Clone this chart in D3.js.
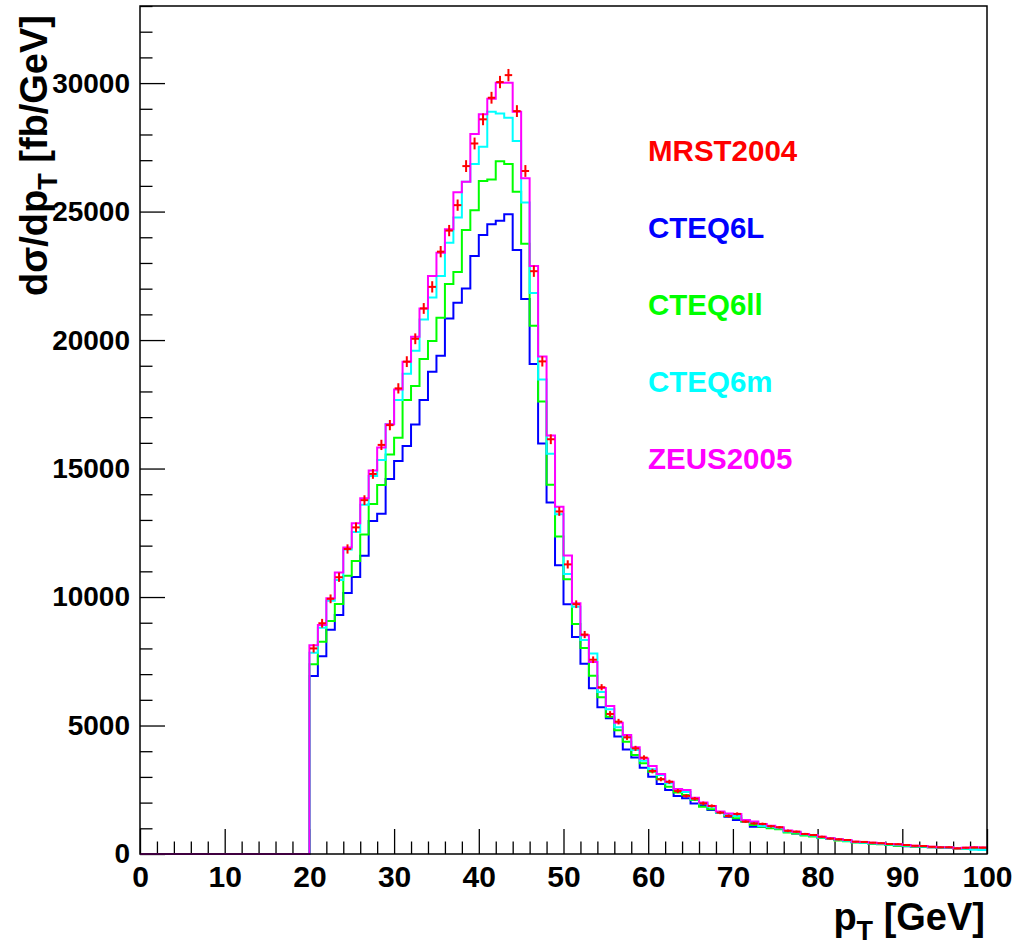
<!DOCTYPE html>
<html>
<head>
<meta charset="utf-8">
<script src="https://cdn.jsdelivr.net/npm/d3@7"></script>
<style>
  html, body { margin: 0; padding: 0; background: #ffffff; }
  svg { display: block; }
  text { font-family: "Liberation Sans", Arial, Helvetica, sans-serif; font-weight: bold; }
</style>
</head>
<body>
<svg id="chart" width="1016" height="948"></svg>
<script>
// ---------------- data ----------------
const binEdges = d3.range(0, 101, 1);

const zeros20 = [0,0,0,0,0,0,0,0,0,0,0,0,0,0,0,0,0,0,0,0];

const mrst2004 = zeros20.concat([
  8000, 8980, 9930, 10770, 11870, 12710, 13770, 14790, 15920, 16690,
  18120, 19160, 20050, 21230, 22070, 23440, 24260, 25250, 26770, 27650,
  28590, 29430, 30040, 30310, 28910, 26580, 22680, 19170, 16140, 13330,
  11270, 9720, 8540, 7560, 6490, 5450, 5150, 4540, 4110, 3750,
  3230, 2910, 2810, 2450, 2260, 2150, 1970, 1870, 1610, 1480,
  1560, 1260, 1190, 1170, 1080, 1040, 900, 870, 780, 740,
  670, 600, 570, 545, 480, 470, 440, 420, 390, 380,
  350, 320, 310, 280, 260, 260, 220, 245, 255, 250
]);

// statistical uncertainty of the MRST2004 points (fb/GeV)
const mrst2004Err = zeros20.concat([
  160, 170, 170, 180, 180, 190, 190, 190, 200, 200,
  200, 210, 210, 210, 220, 220, 220, 220, 230, 230,
  230, 230, 240, 240, 230, 230, 220, 200, 190, 170,
  160, 150, 140, 130, 120, 110, 110, 100, 100, 90,
  90, 80, 80, 80, 70, 70, 70, 60, 60, 60,
  60, 50, 50, 50, 50, 50, 50, 40, 40, 40,
  40, 40, 40, 30, 30, 30, 30, 30, 30, 30,
  30, 30, 30, 30, 30, 30, 30, 30, 30, 30
]);

const cteq6l = zeros20.concat([
  6930, 7700, 8730, 9300, 10160, 10780, 11610, 12960, 13240, 14590,
  15290, 15880, 16710, 17670, 18770, 19390, 20840, 21450, 22010, 23270,
  24090, 24510, 24640, 24900, 23500, 21600, 19070, 15970, 13680, 11240,
  9720, 8440, 7400, 6450, 5710, 5280, 4570, 4070, 3760, 3360,
  3010, 2720, 2490, 2260, 2170, 1970, 1910, 1710, 1610, 1450,
  1320, 1260, 1060, 1060, 1020, 980, 880, 800, 740, 700,
  620, 600, 540, 520, 470, 430, 410, 390, 350, 330,
  300, 290, 270, 260, 240, 230, 220, 220, 210, 200
]);

const cteq6ll = zeros20.concat([
  7380, 8260, 9070, 9730, 10830, 11400, 12430, 13620, 14360, 15550,
  16200, 17670, 18210, 19260, 19960, 20870, 22180, 22650, 24280, 25050,
  26190, 26250, 26960, 26850, 25770, 23750, 20560, 17610, 14370, 12360,
  10690, 8950, 8020, 6940, 6100, 5340, 4820, 4370, 3850, 3530,
  3200, 2910, 2620, 2390, 2300, 2100, 1840, 1740, 1610, 1480,
  1390, 1260, 1130, 1060, 1000, 960, 840, 800, 720, 680,
  620, 580, 530, 500, 450, 430, 400, 380, 350, 320,
  310, 290, 280, 260, 240, 250, 210, 190, 210, 200
]);

const cteq6m = zeros20.concat([
  7830, 8800, 9860, 10660, 11850, 12530, 13590, 14710, 15330, 16720,
  17670, 18690, 19580, 20800, 21660, 22490, 23790, 24770, 26160, 26850,
  27520, 28880, 28820, 28650, 27750, 25350, 21830, 18470, 15580, 13220,
  10900, 9620, 8330, 7800, 6300, 5630, 4930, 4540, 4050, 3630,
  3300, 3070, 2750, 2530, 2410, 2130, 1970, 1840, 1610, 1520,
  1480, 1320, 1220, 1090, 1050, 1000, 880, 850, 760, 720,
  640, 590, 560, 520, 460, 440, 420, 400, 370, 350,
  330, 310, 290, 270, 250, 240, 230, 200, 170, 160
]);

const zeus2005 = zeros20.concat([
  8120, 8910, 9950, 10950, 11930, 12870, 13840, 14920, 15820, 16720,
  18080, 19160, 20130, 21230, 22490, 23400, 24310, 25750, 26160, 28020,
  28790, 29390, 30010, 30010, 28880, 26300, 22880, 19360, 16290, 13510,
  11620, 9760, 8510, 7470, 6460, 5760, 5110, 4630, 4150, 3720,
  3420, 3110, 2810, 2530, 2490, 2190, 2000, 1870, 1650, 1580,
  1560, 1320, 1260, 1170, 1100, 1040, 910, 870, 780, 740,
  670, 610, 570, 545, 480, 470, 440, 420, 390, 380,
  350, 320, 310, 280, 260, 260, 220, 245, 260, 255
]);

const legendLabels = ["MRST2004", "CTEQ6L", "CTEQ6ll", "CTEQ6m", "ZEUS2005"];
const xTickValues = [0, 10, 20, 30, 40, 50, 60, 70, 80, 90, 100];
const yTickValues = [0, 5000, 10000, 15000, 20000, 25000, 30000];
const xDomain = [0, 100];
const yDomain = [0, 33000];

// ---------------- layout ----------------
const W = 1016, H = 948;
const mLeft = 140, mRight = 987, mTop = 6, mBottom = 854;

const svg = d3.select("#chart");
svg.append("rect").attr("width", W).attr("height", H).attr("fill", "#fff");

const x = d3.scaleLinear().domain(xDomain).range([mLeft, mRight]);
const y = d3.scaleLinear().domain(yDomain).range([mBottom, mTop]);

const colors = {
  MRST2004: "#ff0000",
  CTEQ6L: "#0000ff",
  CTEQ6ll: "#00ff00",
  CTEQ6m: "#00ffff",
  ZEUS2005: "#ff00ff"
};

// ---------------- axes ----------------
const xMinor = d3.range(0, 101, 2).filter(v => v % 10 !== 0);
const yMinor = d3.range(0, 33001, 1000).filter(v => v % 5000 !== 0);

const gx = svg.append("g").attr("transform", `translate(0,${mBottom})`);
gx.call(d3.axisBottom(x).tickValues(xMinor).tickSize(-12.5).tickFormat(""));
gx.select(".domain").remove();
const gx2 = svg.append("g").attr("transform", `translate(0,${mBottom})`);
gx2.call(d3.axisBottom(x).tickValues(xTickValues).tickSize(-25).tickPadding(12).tickFormat(d3.format("d")));
gx2.select(".domain").remove();
gx2.selectAll("text").attr("font-size", 30).attr("fill", "#000")
  .attr("font-family", "'Liberation Sans', Arial, sans-serif").attr("font-weight", "bold");

const gy = svg.append("g").attr("transform", `translate(${mLeft},0)`);
gy.call(d3.axisLeft(y).tickValues(yMinor).tickSize(-12.5).tickFormat(""));
gy.select(".domain").remove();
const gy2 = svg.append("g").attr("transform", `translate(${mLeft},0)`);
gy2.call(d3.axisLeft(y).tickValues(yTickValues).tickSize(-25).tickPadding(10).tickFormat(d3.format("d")));
gy2.select(".domain").remove();
gy2.selectAll("text").attr("font-size", 28).attr("fill", "#000")
  .attr("font-family", "'Liberation Sans', Arial, sans-serif").attr("font-weight", "bold");
svg.selectAll(".tick line").attr("stroke", "#000").attr("stroke-width", 1.3);

// ---------------- histograms ----------------
function stepPoints(vals) {
  const pts = vals.map((v, i) => [binEdges[i], v]);
  pts.push([binEdges[vals.length], vals[vals.length - 1]]);
  return pts;
}
const line = d3.line().x(d => x(d[0])).y(d => y(d[1])).curve(d3.curveStepAfter);

const plot = svg.append("g");
const histSeries = [
  { name: "CTEQ6L", vals: cteq6l },
  { name: "CTEQ6ll", vals: cteq6ll },
  { name: "CTEQ6m", vals: cteq6m },
  { name: "ZEUS2005", vals: zeus2005 }
];
histSeries.forEach(s => {
  plot.append("path")
    .datum(stepPoints(s.vals))
    .attr("d", line)
    .attr("fill", "none")
    .attr("stroke", colors[s.name])
    .attr("stroke-width", 2);
});

// MRST2004 as points with error bars (x error = bin width)
const marks = mrst2004.map((v, i) => ({ lo: binEdges[i], hi: binEdges[i + 1], v, e: mrst2004Err[i] }))
  .filter(d => d.v > 0);
const mg = plot.append("g").attr("stroke", colors.MRST2004).attr("stroke-width", 2);
marks.forEach(d => {
  const cx = x((d.lo + d.hi) / 2), cy = y(d.v);
  mg.append("line").attr("x1", x(d.lo) + 0.5).attr("x2", x(d.hi) - 0.5).attr("y1", cy).attr("y2", cy);
  mg.append("line").attr("x1", cx).attr("x2", cx).attr("y1", y(d.v + d.e)).attr("y2", y(d.v - d.e));
});

// frame
svg.append("rect")
  .attr("x", mLeft).attr("y", mTop)
  .attr("width", mRight - mLeft).attr("height", mBottom - mTop)
  .attr("fill", "none").attr("stroke", "#000").attr("stroke-width", 1.5);

// ---------------- legend ----------------
const legendY0 = 161, legendDy = 77;
legendLabels.forEach((name, i) => {
  svg.append("text")
    .attr("x", 648).attr("y", legendY0 + i * legendDy)
    .attr("font-size", 29.5)
    .attr("fill", colors[name])
    .text(name);
});

// ---------------- axis titles ----------------
const xt = svg.append("text")
  .attr("x", 985).attr("y", 930)
  .attr("text-anchor", "end")
  .attr("font-size", 38)
  .attr("fill", "#000");
xt.append("tspan").text("p");
xt.append("tspan").attr("font-size", 27).attr("dy", 10).text("T");
xt.append("tspan").attr("dy", -10).text(" [GeV]");

const yt = svg.append("text")
  .attr("transform", "translate(47,15) rotate(-90)")
  .attr("text-anchor", "end")
  .attr("font-size", 38)
  .attr("fill", "#000");
yt.append("tspan").text("dσ/dp");
yt.append("tspan").attr("font-size", 27).attr("dy", 10).text("T");
yt.append("tspan").attr("dy", -10).text(" [fb/GeV]");
</script>
</body>
</html>
